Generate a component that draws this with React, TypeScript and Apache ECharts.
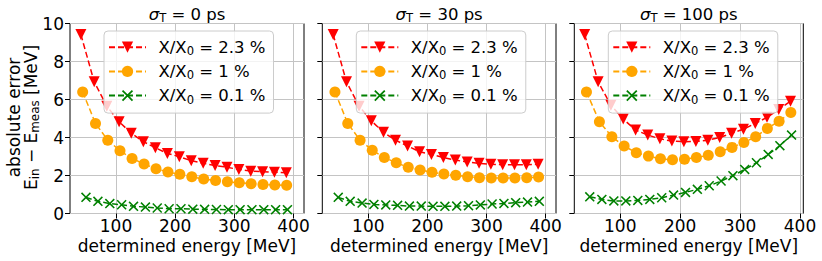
import React, { useEffect, useRef } from 'react';
import * as echarts from 'echarts';

// ---- data ----
const xTicks = [100, 200, 300, 400];
const sigmaLabels = ['0', '30', '100'];
const thicknessLabels = ['2.3', '1', '0.1'];

const p1RedX = [40.6, 63.1, 84.4, 105.2, 125.8, 146.2, 166.5, 186.8, 207.0, 227.2, 247.4, 267.5, 287.6, 307.7, 327.8, 347.8, 367.8, 387.9];
const p1RedY = [9.42, 6.93, 5.65, 4.83, 4.22, 3.78, 3.46, 3.16, 2.99, 2.78, 2.64, 2.53, 2.43, 2.32, 2.23, 2.20, 2.17, 2.15];
const p1OrangeX = [43.6, 65.3, 86.1, 106.7, 127.1, 147.4, 167.6, 187.8, 207.9, 228.1, 248.2, 268.3, 288.3, 308.4, 328.4, 348.5, 368.5, 388.5];
const p1OrangeY = [6.40, 4.74, 3.86, 3.30, 2.90, 2.60, 2.36, 2.18, 2.06, 1.93, 1.81, 1.74, 1.67, 1.62, 1.57, 1.53, 1.50, 1.49];
const p1GreenX = [49.2, 69.4, 89.5, 109.5, 129.6, 149.7, 169.7, 189.8, 209.8, 229.8, 249.8, 269.8, 289.8, 309.8, 329.8, 349.8, 369.8, 389.8];
const p1GreenY = [0.85, 0.64, 0.52, 0.46, 0.38, 0.34, 0.29, 0.25, 0.25, 0.23, 0.22, 0.21, 0.20, 0.20, 0.20, 0.20, 0.20, 0.20];

const p2RedX = [40.6, 63.1, 84.4, 105.1, 125.7, 146.1, 166.5, 186.8, 206.9, 227.1, 247.2, 267.3, 287.4, 307.4, 327.4, 347.4, 367.4, 387.4];
const p2RedY = [9.42, 6.93, 5.65, 4.88, 4.27, 3.86, 3.55, 3.25, 3.11, 2.95, 2.81, 2.71, 2.64, 2.59, 2.57, 2.57, 2.57, 2.59];
const p2OrangeX = [43.6, 65.3, 86.1, 106.7, 127.1, 147.3, 167.6, 187.7, 207.8, 227.9, 248.0, 268.1, 288.1, 308.1, 328.1, 348.1, 368.1, 388.1];
const p2OrangeY = [6.40, 4.74, 3.86, 3.33, 2.95, 2.67, 2.43, 2.29, 2.17, 2.08, 2.01, 1.94, 1.88, 1.87, 1.87, 1.87, 1.88, 1.92];
const p2GreenX = [49.2, 69.4, 89.5, 109.5, 129.6, 149.6, 169.6, 189.6, 209.6, 229.6, 249.6, 269.6, 289.6, 309.5, 329.5, 349.4, 369.4, 389.4];
const p2GreenY = [0.85, 0.64, 0.55, 0.48, 0.45, 0.43, 0.39, 0.39, 0.38, 0.38, 0.39, 0.41, 0.45, 0.50, 0.53, 0.57, 0.60, 0.64];

const p3RedX = [40.6, 63.1, 84.3, 105.0, 125.6, 145.9, 166.1, 186.2, 206.2, 226.2, 246.1, 266.0, 285.8, 305.6, 325.3, 344.9, 364.5, 384.1];
const p3RedY = [9.42, 6.93, 5.70, 4.97, 4.39, 4.13, 3.93, 3.81, 3.78, 3.79, 3.86, 4.00, 4.22, 4.44, 4.74, 5.06, 5.48, 5.91];
const p3OrangeX = [43.6, 65.2, 86.0, 106.5, 126.8, 147.0, 167.1, 187.2, 207.2, 227.1, 246.9, 266.8, 286.5, 306.3, 326.0, 345.5, 365.1, 384.7];
const p3OrangeY = [6.40, 4.83, 4.04, 3.55, 3.20, 3.02, 2.88, 2.83, 2.85, 2.95, 3.06, 3.25, 3.48, 3.74, 4.04, 4.48, 4.86, 5.32];
const p3GreenX = [49.1, 69.3, 89.3, 109.3, 129.3, 149.3, 169.2, 189.0, 208.9, 228.7, 248.5, 268.3, 288.0, 307.7, 327.3, 346.9, 366.4, 385.9];
const p3GreenY = [0.88, 0.74, 0.66, 0.66, 0.69, 0.74, 0.83, 0.97, 1.11, 1.27, 1.46, 1.71, 1.99, 2.32, 2.67, 3.11, 3.57, 4.13];

const panelData = [
  [[p1RedX, p1RedY], [p1OrangeX, p1OrangeY], [p1GreenX, p1GreenY]],
  [[p2RedX, p2RedY], [p2OrangeX, p2OrangeY], [p2GreenX, p2GreenY]],
  [[p3RedX, p3RedY], [p3OrangeX, p3OrangeY], [p3GreenX, p3GreenY]],
];

// ---- layout / style ----
const FONT = 'DejaVu Sans';
const FS = 16.5;
const FS_AX = 17;
const gridLefts = [70, 322.3, 574.3];
const gridWidths = [234, 233.7, 229];
const gridTop = 23.5;
const gridHeight = 190;
const xRanges = [[22.2, 417.8], [22.2, 417.6], [23.3, 405.5]];
const colors = ['#ff0000', '#ffa500', '#008000'];
const symbols = [
  'path://M0,0L10,0L5,10Z',
  'circle',
  'path://M0,1.1L1.1,0L5,3.9L8.9,0L10,1.1L6.1,5L10,8.9L8.9,10L5,6.1L1.1,10L0,8.9L3.9,5Z',
];
const symbolSizes = [11, 11, 10];

const mkRich = (fs: number) => ({
  m: { fontSize: fs, fontFamily: FONT, color: '#000' },
  i: { fontSize: fs, fontFamily: FONT, fontStyle: 'italic', color: '#000' },
  s: { fontSize: fs * 0.7, fontFamily: FONT, color: '#000', padding: [8, 0, 0, 0] },
});

export default function App() {
  const ref = useRef<HTMLDivElement>(null);
  useEffect(() => {
    const chart = echarts.init(ref.current!, null, { renderer: 'svg' });
    const grids = gridLefts.map((l, i) => ({
      left: l,
      top: gridTop,
      width: gridWidths[i],
      height: gridHeight,
      show: true,
      borderColor: '#000',
      borderWidth: 1,
      backgroundColor: 'transparent',
      containLabel: false,
    }));
    const xAxes = gridLefts.map((_, i) => ({
      type: 'value',
      gridIndex: i,
      min: xRanges[i][0],
      max: xRanges[i][1],
      axisLine: { show: false },
      axisTick: { show: true, length: 5, customValues: xTicks, lineStyle: { color: '#000', width: 1 } },
      axisLabel: { show: true, customValues: xTicks, fontSize: FS_AX, fontFamily: FONT, color: '#000', margin: 4 },
      splitLine: { show: true, lineStyle: { color: '#c4c4c4', width: 1 } },
    }));
    const yAxes = gridLefts.map((_, i) => ({
      type: 'value',
      gridIndex: i,
      min: 0,
      max: 10,
      interval: 2,
      axisLine: { show: false },
      axisTick: { show: true, length: 5, lineStyle: { color: '#000', width: 1 } },
      axisLabel: { show: i === 0, fontSize: FS_AX, fontFamily: FONT, color: '#000', margin: 6 },
      splitLine: { show: true, lineStyle: { color: '#c4c4c4', width: 1 } },
    }));
    const series: any[] = [];
    panelData.forEach((panel, pi) => {
      panel.forEach(([xs, ys], si) => {
        series.push({
          type: 'line',
          name: `${thicknessLabels[si]}#${pi}`,
          xAxisIndex: pi,
          yAxisIndex: pi,
          data: xs.map((x, k) => [x, ys[k]]),
          symbol: symbols[si],
          symbolSize: symbolSizes[si],
          showSymbol: true,
          lineStyle: { color: colors[si], width: 1.5, type: [6, 3] },
          itemStyle: { color: colors[si] },
          z: 2 + si,
        });
      });
    });
    const richL = mkRich(FS);
    const legends = gridLefts.map((l, pi) => ({
      data: thicknessLabels.map((t) => `${t}#${pi}`),
      left: l + 34,
      top: 31,
      orient: 'vertical',
      itemWidth: 37,
      itemHeight: 14,
      itemGap: 5.7,
      padding: [7.7, 8, 7.5, 4],
      backgroundColor: 'rgba(255,255,255,0.8)',
      borderColor: '#cccccc',
      borderWidth: 1,
      borderRadius: 4,
      selectedMode: false,
      formatter: (name: string) => `{a|X/X}{s|0}{m| = ${name.split('#')[0]} %}`,
      textStyle: {
        fontSize: FS,
        fontFamily: FONT,
        color: '#000',
        rich: { ...richL, a: { fontSize: FS, fontFamily: FONT, color: '#000', padding: [0, 0, 0, 7.5] } },
      },
    }));
    const richT = mkRich(FS);
    const richA = mkRich(FS_AX);
    const graphics: any[] = [];
    gridLefts.forEach((l, pi) => {
      const cx = l + gridWidths[pi] / 2;
      graphics.push({
        type: 'text',
        x: cx,
        y: 14,
        style: {
          text: `{i|σ}{s|T}{m| = ${sigmaLabels[pi]} ps}`,
          rich: richT,
          align: 'center',
          verticalAlign: 'middle',
        },
      });
      graphics.push({
        type: 'text',
        x: cx,
        y: 245.5,
        style: {
          text: 'determined energy [MeV]',
          fontSize: FS_AX,
          fontFamily: FONT,
          fill: '#000',
          align: 'center',
          verticalAlign: 'middle',
        },
      });
    });
    graphics.push({
      type: 'text',
      x: 14,
      y: gridTop + gridHeight / 2 - 1,
      rotation: Math.PI / 2,
      style: {
        text: 'absolute error',
        fontSize: FS_AX,
        fontFamily: FONT,
        fill: '#000',
        align: 'center',
        verticalAlign: 'middle',
      },
    });
    graphics.push({
      type: 'text',
      x: 31,
      y: gridTop + gridHeight / 2 - 1,
      rotation: Math.PI / 2,
      style: {
        text: '{m|E}{s|in}{m| − E}{s|meas}{m| [MeV]}',
        rich: richA,
        align: 'center',
        verticalAlign: 'middle',
      },
    });
    chart.setOption({
      animation: false,
      backgroundColor: '#fff',
      grid: grids,
      xAxis: xAxes,
      yAxis: yAxes,
      legend: legends,
      series,
      graphic: { elements: graphics },
    } as any);
    return () => chart.dispose();
  }, []);
  return (
    <div
      ref={ref}
      style={{ position: 'absolute', left: 0, top: 0, width: 822, height: 261, background: '#fff' }}
    />
  );
}
